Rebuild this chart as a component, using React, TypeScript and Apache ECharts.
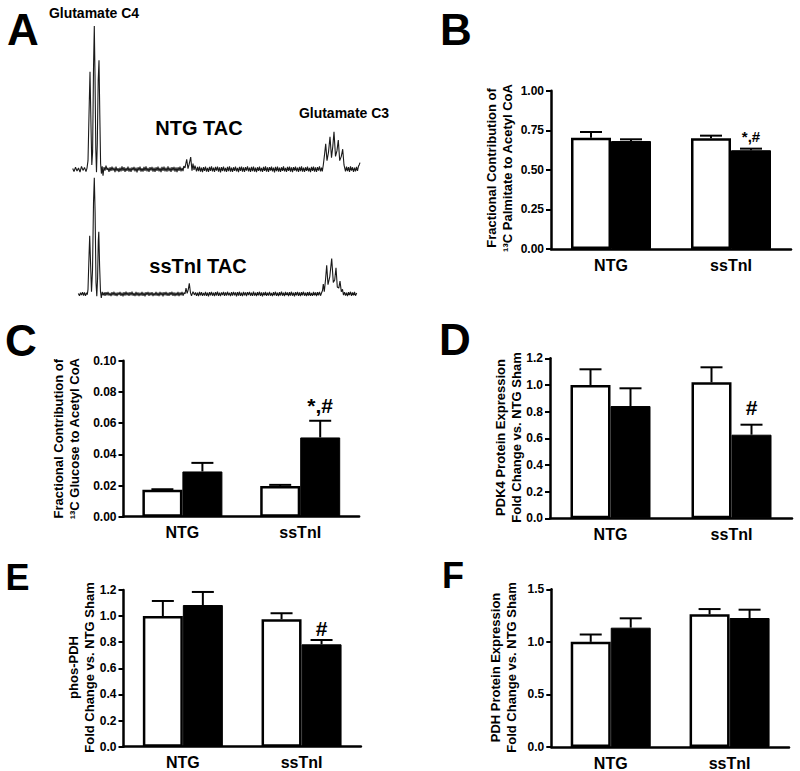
import React, { useEffect, useRef } from 'react';
import * as echarts from 'echarts';

// ---------- Panel A: 13C NMR spectra (x: arbitrary chemical-shift units, y: relative intensity) ----------
const spectrumNtgTac: [number, number][] = [
  [0.7,0.5],[2,-1.6],[3.5,1.4],[5,-1.2],[6.5,0.9],[8,-1.9],[9.5,2],[11,-0.8],[12.5,1.3],[14,-1.6],[15,0.8],
  [16,6],[17,38],[18,68],[19,30],[19.8,3],[20.6,12],[21.5,70],[22.3,100],[23,66],[23.8,14],[24.5,-2],[25.3,18],[26.2,62],[27,76],[27.8,38],[28.6,4],[29.4,-3],[30.2,2],[31,-4.5],[32,1.5],[33,-1],[34,2.5],[35,-0.5],[36,1],
  [37,-1.8],[38,1.4],[39,-1.2],[40,1.9],[41,-0.9],[42,1.1],[43,-2],[44,1.8],[45,-1.3],[46,0.7],[47,-1.9],[48,1.2],[49,-1.4],[50,2],[51,-1.1],[52,1.5],[53,-1.8],[54,0.9],[55,-1.2],[56,1.9],[57,-1.6],[58,1],[59,-1.9],[60,1.3],[61,-0.8],[62,1.7],[63,-1.5],[64,1.1],[65,-2.1],[66,1.4],[67,-1],[68,1.8],[69,-1.6],[70,0.8],[71,-1.7],[72,1.6],[73,-1.1],[74,2],[75,-1.4],[76,1],[77,-1.9],[78,1.5],[79,-0.9],[80,1.7],[81,-1.6],[82,1.2],[83,-1.8],[84,1.4],[85,-1.1],[86,1.9],[87,-1.5],[88,0.9],[89,-2],[90,1.6],[91,-1.2],[92,1.8],[93,-1.4],[94,1.1],[95,-1.7],[96,2.1],[97,-1.3],[98,1.2],[99,-1.8],[100,1.5],[101,-1],[102,1.7],[103,-1.6],[104,1.3],[105,-2],[106,1.4],[107,-1.1],[108,1.9],[109,-1.5],[110,1],[111,-1.3],[111.8,2.2],
  [113,1],[114.7,7],[116,0.5],[117,3],[118.7,8.5],[120,-1],[121,4],[122,-0.5],[123,2.5],[124.5,-1.5],
  [125.5,1.6],[126.5,-1.3],[127.5,1.9],[128.5,-1.7],[129.5,1.2],[130.5,-2],[131.5,1.5],[132.5,-1.1],[133.5,1.8],[134.5,-1.6],[135.5,1],[136.5,-1.9],[137.5,1.7],[138.5,-1.2],[139.5,2],[140.5,-1.4],[141.5,1.1],[142.5,-1.8],[143.5,1.6],[144.5,-1],[145.5,1.9],[146.5,-1.7],[147.5,1.3],[148.5,-2.1],[149.5,1.5],[150.5,-1.2],[151.5,1.8],[152.5,-1.5],[153.5,1],[154.5,-1.9],[155.5,1.7],[156.5,-1.3],[157.5,2],[158.5,-1.6],[159.5,1.2],[160.5,-1.8],[161.5,1.4],[162.5,-1.1],[163.5,1.9],[164.5,-1.5],[165.5,1],[166.5,-2],[167.5,1.6],[168.5,-1.2],[169.5,1.8],[170.5,-1.7],[171.5,1.3],[172.5,-1.9],[173.5,1.5],[174.5,-1],[175.5,2.1],[176.5,-1.4],[177.5,1.1],[178.5,-1.8],[179.5,1.7],[180.5,-1.3],[181.5,1.9],[182.5,-1.6],[183.5,1.2],[184.5,-2],[185.5,1.4],[186.5,-1.1],[187.5,1.8],[188.5,-1.5],[189.5,1],[190.5,-1.9],[191.5,1.6],[192.5,-1.2],[193.5,2],[194.5,-1.7],[195.5,1.3],[196.5,-1.8],[197.5,1.5],[198.5,-1],[199.5,1.9],[200.5,-1.4],[201.5,1.1],[202.5,-2.1],[203.5,1.7],[204.5,-1.3],[205.5,1.8],[206.5,-1.6],[207.5,1.2],[208.5,-1.9],[209.5,1.4],[210.5,-1.1],[211.5,2],[212.5,-1.5],[213.5,1],[214.5,-1.8],[215.5,1.6],[216.5,-1.2],[217.5,1.9],[218.5,-1.7],[219.5,1.3],[220.5,-2],[221.5,1.5],[222.5,-1],[223.5,1.8],[224.5,-1.4],[225.5,1.1],[226.5,-1.9],[227.5,1.7],[228.5,-1.3],[229.5,2.1],[230.5,-1.6],[231.5,1.2],[232.5,-1.8],[233.5,1.4],[234.5,-1.1],[235.5,1.9],[236.5,-1.5],[237.5,1],[238.5,-2],[239.5,1.6],[240.5,-1.2],[241.5,1.8],[242.5,-1.7],[243.5,1.3],[244.5,-1.9],[245.5,1.5],[246.5,-1],[247.5,2],[248.5,-1.4],[249.5,1.1],[250.3,-1.5],
  [251.3,3],[252.5,10],[253.7,17.7],[255,6],[256.5,12],[258,22.7],[259.5,8],[260.8,16],[262,26.2],[263.5,9],[265,13],[266.3,20.4],[267.7,6],[269.3,9],[270.7,14],[272,3],[273.5,-1.5],
  [274.5,1.8],[275.5,-1.3],[276.5,1.5],[277.5,-1.8],[278.5,2],[279.5,-1],[280.5,1.4],[281.5,-1.9],[282.5,1.2],[283.5,-1.5],[284.5,1.7],[285.5,-1.2],[286.5,2.2],[287.3,3.2],[288,4.6],
];

const spectrumSsTnITac: [number, number][] = [
  [6.3,0.5],[7.5,-1.5],[8.5,1.2],[9.5,-1],[10.5,1.6],[11.5,-1.3],[12.5,1.4],[13.5,-1.6],[14.5,1],[15.3,-0.5],
  [16,4],[17,32],[17.7,50],[18.5,28],[19.5,2],[20.5,20],[21.5,78],[22.3,100],[23.1,70],[24,10],[24.8,-2],[25.6,14],[26.3,46],[26.8,53.6],[27.6,24],[28.5,2],[29.3,-3.5],[30.2,1.8],[31.2,-1.2],[32.2,1.3],
  [33,-1.6],[34,1.5],[35,-1.1],[36,1.8],[37,-1.4],[38,1],[39,-1.9],[40,1.6],[41,-1.2],[42,1.9],[43,-1.5],[44,1.1],[45,-1.8],[46,1.4],[47,-1],[48,1.7],[49,-1.6],[50,1.2],[51,-2],[52,1.5],[53,-1.3],[54,1.9],[55,-1.1],[56,1.3],[57,-1.7],[58,1.6],[59,-1.2],[60,2],[61,-1.5],[62,1],[63,-1.9],[64,1.7],[65,-1.3],[66,1.4],[67,-1.8],[68,1.1],[69,-1.4],[70,1.9],[71,-1.6],[72,1.2],[73,-2],[74,1.5],[75,-1],[76,1.8],[77,-1.7],[78,1.3],[79,-1.2],[80,1.6],[81,-1.9],[82,1],[83,-1.4],[84,1.9],[85,-1.5],[86,1.1],[87,-1.8],[88,1.7],[89,-1.1],[90,1.4],[91,-2],[92,1.6],[93,-1.2],[94,1.8],[95,-1.5],[96,1.2],[97,-1.7],[98,1.5],[99,-1],[100,1.9],[101,-1.6],[102,1.3],[103,-1.9],[104,1.1],[105,-1.3],[106,1.7],[107,-1.8],[108,1.4],[109,-1.1],[110,1.8],[111,-1.5],[112,1.2],
  [113,0],[114,5],[115.2,0.5],[116.3,4],[117.3,9.2],[118.5,1],[119.5,-1.5],[121,2],[122.5,-0.8],[123.5,1.4],
  [124.5,-1.6],[125.5,1.2],[126.5,-1.9],[127.5,1.7],[128.5,-1.2],[129.5,1.5],[130.5,-1.7],[131.5,1],[132.5,-1.4],[133.5,1.9],[134.5,-1.6],[135.5,1.2],[136.5,-2],[137.5,1.6],[138.5,-1.1],[139.5,1.8],[140.5,-1.5],[141.5,1.1],[142.5,-1.8],[143.5,1.5],[144.5,-1.3],[145.5,2],[146.5,-1.6],[147.5,1.2],[148.5,-1.9],[149.5,1.4],[150.5,-1],[151.5,1.7],[152.5,-1.7],[153.5,1.3],[154.5,-1.4],[155.5,1.9],[156.5,-1.2],[157.5,1],[158.5,-1.8],[159.5,1.6],[160.5,-1.5],[161.5,1.8],[162.5,-1.1],[163.5,1.3],[164.5,-2],[165.5,1.5],[166.5,-1.3],[167.5,1.9],[168.5,-1.6],[169.5,1.1],[170.5,-1.8],[171.5,1.7],[172.5,-1.2],[173.5,1.4],[174.5,-1.9],[175.5,1.6],[176.5,-1],[177.5,1.8],[178.5,-1.5],[179.5,1.2],[180.5,-1.7],[181.5,2],[182.5,-1.4],[183.5,1.1],[184.5,-1.8],[185.5,1.5],[186.5,-1.2],[187.5,1.9],[188.5,-1.6],[189.5,1.3],[190.5,-2],[191.5,1.4],[192.5,-1.1],[193.5,1.7],[194.5,-1.7],[195.5,1.2],[196.5,-1.4],[197.5,1.8],[198.5,-1.5],[199.5,1],[200.5,-1.9],[201.5,1.6],[202.5,-1.2],[203.5,1.9],[204.5,-1.6],[205.5,1.1],[206.5,-1.8],[207.5,1.5],[208.5,-1.3],[209.5,2],[210.5,-1.5],[211.5,1.2],[212.5,-1.9],[213.5,1.7],[214.5,-1],[215.5,1.4],[216.5,-1.8],[217.5,1.6],[218.5,-1.3],[219.5,1.9],[220.5,-1.5],[221.5,1.1],[222.5,-2],[223.5,1.5],[224.5,-1.2],[225.5,1.8],[226.5,-1.6],[227.5,1.3],[228.5,-1.8],[229.5,1.6],[230.5,-1.1],[231.5,1.9],[232.5,-1.5],[233.5,1.2],[234.5,-1.9],[235.5,1.5],[236.5,-1.3],[237.5,1.8],[238.5,-1.6],[239.5,1],[240.5,-1.7],[241.5,1.7],[242.5,-1.2],[243.5,1.4],[244.5,-1.9],[245.5,1.6],[246.5,-1.1],[247.5,1.8],[248.5,-1.5],[249.5,0.8],
  [250.5,3],[251.3,8.6],[252.3,2],[253.5,12],[254.7,24.6],[256,8],[257.8,15],[259.7,30.4],[261.3,10],[262.7,12],[264,22.6],[265.3,6],[266.8,5],[268,11],[269.3,2],[270.5,4],[271.5,-1],
  [272.5,1.6],[273.5,-1.4],[274.5,1.2],[275.5,-1.8],[276.5,1.5],[277.5,-1],[278.5,1.9],[279.5,-1.6],[280.5,1.3],[281.5,-1.2],[282.5,1.7],[283.5,-1.5],[284.7,0.8],
];

// ---------- Bar panels ----------
const groups = ['NTG', 'ssTnI'];

// B: 13C palmitate contribution
const palmShamMean = [0.703, 0.699];
const palmShamUpper = [0.739, 0.716];
const palmTacMean = [0.682, 0.624];
const palmTacUpper = [0.693, 0.634];
const palmTacMarks = ['', '*,#'];
const palmTicks = [0, 1, 0.25];

// C: 13C glucose contribution
const glucShamMean = [0.0172, 0.0196];
const glucShamUpper = [0.0176, 0.0204];
const glucTacMean = [0.029, 0.0508];
const glucTacUpper = [0.0345, 0.0615];
const glucTacMarks = ['', '*,#'];
const glucTicks = [0, 0.1, 0.02];

// D: PDK4 protein
const pdk4ShamMean = [1.0, 1.02];
const pdk4ShamUpper = [1.1175, 1.1325];
const pdk4TacMean = [0.842, 0.627];
const pdk4TacUpper = [0.975, 0.702];
const pdk4TacMarks = ['', '#'];
const pdk4Ticks = [0, 1.2, 0.2];

// E: phos-PDH
const phosShamMean = [1.0, 0.976];
const phosShamUpper = [1.116, 1.022];
const phosTacMean = [1.085, 0.784];
const phosTacUpper = [1.185, 0.817];
const phosTacMarks = ['', '#'];
const phosTicks = [0, 1.2, 0.2];

// F: PDH protein
const pdhShamMean = [1.0, 1.262];
const pdhShamUpper = [1.07, 1.312];
const pdhTacMean = [1.135, 1.227];
const pdhTacUpper = [1.224, 1.306];
const pdhTacMarks = ['', ''];
const pdhTicks = [0, 1.5, 0.5];

const FONT = '"Liberation Sans", Arial, Helvetica, sans-serif';
const BAR_W = 40;

type Panel = {
  rect: { left: number; top: number; width: number; height: number };
  ticks: number[];
  decimals: number;
  name: string;
  nameX: number; nameY: number;
  shamMean: number[]; shamUpper: number[];
  tacMean: number[]; tacUpper: number[];
  marks: string[];
  markFont: number; markGap: number;
};

const panels: Panel[] = [
  { rect: { left: 551, top: 90.7, width: 240, height: 158.3 }, ticks: palmTicks, decimals: 2,
    name: 'Fractional Contribution of\n\u00B9\u00B3C Palmitate to Acetyl CoA', nameX: 499.5, nameY: 168,
    shamMean: palmShamMean, shamUpper: palmShamUpper, tacMean: palmTacMean, tacUpper: palmTacUpper,
    marks: palmTacMarks, markFont: 15, markGap: 12 },
  { rect: { left: 123.5, top: 360.7, width: 235.6, height: 156 }, ticks: glucTicks, decimals: 2,
    name: 'Fractional Contribution of\n\u00B9\u00B3C Glucose to Acetyl CoA', nameX: 66, nameY: 438.7,
    shamMean: glucShamMean, shamUpper: glucShamUpper, tacMean: glucTacMean, tacUpper: glucTacUpper,
    marks: glucTacMarks, markFont: 21, markGap: 15 },
  { rect: { left: 550, top: 358.3, width: 242, height: 160 }, ticks: pdk4Ticks, decimals: 1,
    name: 'PDK4 Protein Expression\nFold Change vs. NTG Sham', nameX: 508.3, nameY: 437.5,
    shamMean: pdk4ShamMean, shamUpper: pdk4ShamUpper, tacMean: pdk4TacMean, tacUpper: pdk4TacUpper,
    marks: pdk4TacMarks, markFont: 21, markGap: 17 },
  { rect: { left: 123.5, top: 590, width: 237.4, height: 156.7 }, ticks: phosTicks, decimals: 1,
    name: 'phos-PDH\nFold Change vs. NTG Sham', nameX: 81, nameY: 667.5,
    shamMean: phosShamMean, shamUpper: phosShamUpper, tacMean: phosTacMean, tacUpper: phosTacUpper,
    marks: phosTacMarks, markFont: 21, markGap: 12 },
  { rect: { left: 551.3, top: 589.3, width: 237.7, height: 157.7 }, ticks: pdhTicks, decimals: 1,
    name: 'PDH Protein Expression\nFold Change vs. NTG Sham', nameX: 503.3, nameY: 667.5,
    shamMean: pdhShamMean, shamUpper: pdhShamUpper, tacMean: pdhTacMean, tacUpper: pdhTacUpper,
    marks: pdhTacMarks, markFont: 21, markGap: 12 },
];

function errorSeries(axisIdx: number, mean: number[], upper: number[], marks: string[], offset: number, markFont: number, markGap: number) {
  return {
    type: 'custom',
    xAxisIndex: axisIdx,
    yAxisIndex: axisIdx,
    z: 5,
    data: groups.map((g, i) => [i, mean[i], upper[i]]),
    renderItem: (params: any, api: any) => {
      const idx = api.value(0);
      const base = api.coord([idx, api.value(1)]);
      const top = api.coord([idx, api.value(2)]);
      const x = base[0] + offset;
      const children: any[] = [
        { type: 'line', shape: { x1: x, y1: base[1], x2: x, y2: top[1] }, style: { stroke: '#000', lineWidth: 2 } },
        { type: 'line', shape: { x1: x - 11, y1: top[1], x2: x + 11, y2: top[1] }, style: { stroke: '#000', lineWidth: 2 } },
      ];
      const m = marks[params.dataIndex];
      if (m) {
        children.push({
          type: 'text',
          style: { text: m, x, y: top[1] - markGap, align: 'center', verticalAlign: 'middle',
            font: `bold ${markFont}px ${FONT}`, fill: '#000' },
        });
      }
      return { type: 'group', children };
    },
  };
}

export default function App() {
  const ref = useRef<HTMLDivElement>(null);
  useEffect(() => {
    if (!ref.current) return;
    const chart = echarts.init(ref.current, undefined, { renderer: 'svg' });

    const grids: any[] = [
      { left: 72, top: 18.8, width: 288, height: 164.8 },
      { left: 72, top: 171.9, width: 288, height: 133.7 },
    ];
    const xAxes: any[] = [
      { gridIndex: 0, type: 'value', min: 0, max: 288, show: false },
      { gridIndex: 1, type: 'value', min: 0, max: 288, show: false },
    ];
    const yAxes: any[] = [
      { gridIndex: 0, type: 'value', min: -10, max: 105, show: false },
      { gridIndex: 1, type: 'value', min: -10, max: 105, show: false },
    ];
    const series: any[] = [
      { type: 'line', xAxisIndex: 0, yAxisIndex: 0, data: spectrumNtgTac, showSymbol: false, symbol: 'none',
        lineStyle: { color: '#1a1a1a', width: 1.1 }, clip: false },
      { type: 'line', xAxisIndex: 1, yAxisIndex: 1, data: spectrumSsTnITac, showSymbol: false, symbol: 'none',
        lineStyle: { color: '#1a1a1a', width: 1.1 }, clip: false },
    ];

    const txt = (text: string, x: number, y: number, size: number, align = 'left', rotation = 0, lineHeight?: number) => ({
      type: 'text', x, y, z: 10, rotation,
      style: { text, font: `bold ${size}px ${FONT}`, fill: '#000', align, verticalAlign: 'middle',
        ...(lineHeight ? { lineHeight } : {}) },
    });

    const names: any[] = [];

    panels.forEach((p, i) => {
      const k = i + 2;
      grids.push({ ...p.rect });
      xAxes.push({
        gridIndex: k, type: 'category', data: groups,
        axisLine: { show: true, lineStyle: { color: '#000', width: 2.5 } },
        axisTick: { show: false },
        axisLabel: { fontSize: 16, fontWeight: 'bold', color: '#000', margin: 8, fontFamily: FONT },
      });
      yAxes.push({
        gridIndex: k, type: 'value', min: p.ticks[0], max: p.ticks[1], interval: p.ticks[2],
        axisLine: { show: true, lineStyle: { color: '#000', width: 2.5 } },
        axisTick: { show: true, length: 5, lineStyle: { color: '#000', width: 2 } },
        axisLabel: { fontSize: 12, fontWeight: 'bold', color: '#000', margin: 7, fontFamily: FONT,
          formatter: (v: number) => v.toFixed(p.decimals) },
        splitLine: { show: false },
      });
      series.push(
        { type: 'bar', xAxisIndex: k, yAxisIndex: k, data: p.shamMean, barWidth: BAR_W, barGap: '0%',
          itemStyle: { color: '#fff', borderColor: '#000', borderWidth: 2.5 } },
        { type: 'bar', xAxisIndex: k, yAxisIndex: k, data: p.tacMean, barWidth: BAR_W, barGap: '0%',
          itemStyle: { color: '#000', borderColor: '#000', borderWidth: 1 } },
        errorSeries(k, p.shamMean, p.shamUpper, ['', ''], -BAR_W / 2, p.markFont, p.markGap),
        errorSeries(k, p.tacMean, p.tacUpper, p.marks, BAR_W / 2, p.markFont, p.markGap),
      );
      names.push(txt(p.name, p.nameX, p.nameY, 13, 'center', Math.PI / 2, 16));
    });

    chart.setOption({
      animation: false,
      backgroundColor: '#fff',
      textStyle: { fontFamily: FONT },
      grid: grids,
      xAxis: xAxes,
      yAxis: yAxes,
      series,
      graphic: [
        txt('A', 7, 29.5, 44),
        txt('B', 440, 29.5, 44),
        txt('C', 5, 340.5, 44),
        txt('D', 439, 339, 44),
        txt('E', 5.5, 577, 36),
        txt('F', 442, 575, 36),
        txt('Glutamate C4', 94, 12.5, 14, 'center'),
        txt('Glutamate C3', 344, 113, 14, 'center'),
        txt('NTG TAC', 199, 128, 20, 'center'),
        txt('ssTnI TAC', 198, 266, 20, 'center'),
        ...names,
      ],
    });
    return () => chart.dispose();
  }, []);
  return <div ref={ref} style={{ position: 'absolute', left: 0, top: 0, width: 800, height: 771, background: '#fff' }} />;
}
